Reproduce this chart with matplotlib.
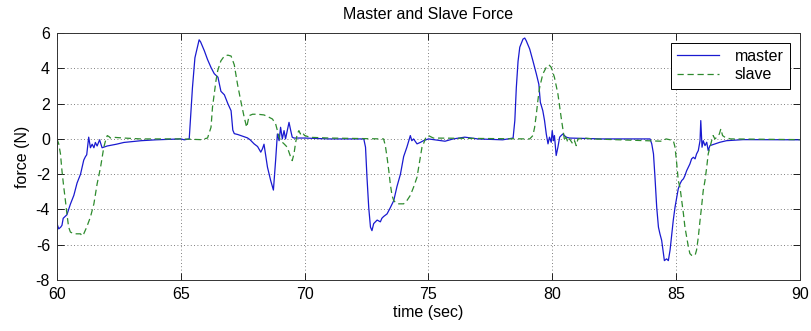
import matplotlib
matplotlib.use("Agg")
import matplotlib.pyplot as plt

plt.rcParams['font.family'] = ['Liberation Sans Narrow', 'Liberation Sans', 'DejaVu Sans']
plt.rcParams['axes.unicode_minus'] = False

title = "Master and Slave Force"
x_label = "time (sec)"
y_label = "force (N)"
series_names = ["master", "slave"]
x_ticks = [60, 65, 70, 75, 80, 85, 90]
y_ticks = [-8, -6, -4, -2, 0, 2, 4, 6]

master_t = [60.0, 60.07, 60.15, 60.2, 60.25, 60.4, 60.54, 60.68, 60.81, 60.95,
            61.08, 61.15, 61.2, 61.28, 61.35, 61.42, 61.49, 61.55, 61.62, 61.72,
            61.82, 62.03, 62.4, 62.7, 63.4, 64.0, 65.0, 65.14, 65.34, 65.47,
            65.57, 65.74, 65.8, 65.95, 66.08, 66.22, 66.35, 66.5, 66.62, 66.76,
            66.9, 67.03, 67.1, 67.16, 67.3, 67.42, 67.69, 67.8, 67.96, 68.1,
            68.23, 68.3, 68.36, 68.42, 68.5, 68.63, 68.74, 68.83, 68.9, 68.97,
            69.03, 69.1, 69.17, 69.23, 69.3, 69.37, 69.44, 69.5, 69.57, 70.0,
            71.0, 72.39, 72.46, 72.52, 72.59, 72.66, 72.72, 72.79, 72.93, 73.06,
            73.12, 73.19, 73.33, 73.46, 73.6, 73.73, 73.87, 74.0, 74.13, 74.27,
            74.33, 74.4, 74.54, 74.67, 74.8, 75.0, 75.67, 76.0, 76.47, 77.0,
            78.0, 78.42, 78.49, 78.55, 78.62, 78.69, 78.82, 78.89, 78.95, 79.09,
            79.22, 79.36, 79.46, 79.52, 79.62, 79.69, 79.76, 79.83, 79.89, 79.96,
            80.0, 80.05, 80.09, 80.16, 80.23, 80.3, 80.36, 80.43, 80.56, 80.7,
            82.0, 83.95, 84.02, 84.09, 84.15, 84.22, 84.29, 84.35, 84.42, 84.49,
            84.53, 84.62, 84.69, 84.76, 84.83, 84.89, 84.96, 85.03, 85.09, 85.16,
            85.23, 85.3, 85.36, 85.43, 85.56, 85.63, 85.7, 85.77, 85.83, 85.9,
            85.97, 86.0, 86.05, 86.1, 86.17, 86.24, 86.3, 86.37, 86.5, 86.77,
            87.04, 87.71, 90.0]
master_f = [-4.8, -5.1, -5.0, -4.9, -4.5, -4.3, -3.7, -3.2, -2.5, -2.0,
            -1.2, -1.0, -0.9, 0.1, -0.5, -0.3, -0.5, -0.2, -0.4, -0.05,
            -0.5, -0.4, -0.3, -0.2, -0.1, -0.05, 0.0, -0.05, 0.0, 2.9,
            4.6, 5.62, 5.5, 5.0, 4.5, 4.05, 3.7, 3.5, 2.7, 2.5,
            2.0, 1.6, 0.5, 0.3, 0.25, 0.19, 0.06, -0.05, -0.28, -0.43,
            -0.75, -0.55, -0.3, -0.85, -1.6, -2.36, -2.9, -1.2, 0.28, -0.1,
            0.66, 0.0, 0.47, 0.0, 0.47, 0.94, 0.47, 0.1, 0.05, 0.05,
            0.0, 0.0, -0.47, -2.2, -3.9, -5.0, -5.2, -4.8, -4.6, -4.7,
            -4.5, -4.4, -4.25, -3.9, -3.5, -2.7, -2.0, -1.0, -0.47, 0.19,
            -0.1, 0.0, -0.28, -0.2, -0.1, 0.0, -0.13, 0.0, 0.1, 0.0,
            -0.05, 0.05, 1.04, 2.9, 4.4, 5.2, 5.66, 5.72, 5.57, 5.1,
            4.43, 3.68, 3.1, 2.08, 1.6, 1.04, 0.28, -0.28, 0.1, -0.19,
            0.47, -0.1, 0.19, -0.94, -0.47, 0.1, 0.19, 0.28, 0.1, 0.05,
            0.0, 0.0, -0.28, -0.85, -2.17, -3.87, -5.0, -5.38, -5.75, -6.5,
            -6.9, -6.8, -6.9, -6.3, -5.4, -4.6, -3.87, -3.3, -2.83, -2.55,
            -2.36, -2.26, -2.08, -1.8, -1.42, -1.13, -1.04, -1.13, -0.85, -0.66,
            -0.1, 1.04, -0.47, -0.1, -0.38, -0.19, -0.66, -0.38, -0.32, -0.19,
            -0.1, -0.04, -0.05]

slave_t = [60.0, 60.07, 60.14, 60.2, 60.27, 60.34, 60.4, 60.47, 60.54, 60.68,
           60.81, 60.95, 61.01, 61.08, 61.2, 61.35, 61.49, 61.62, 61.76, 61.89,
           61.96, 62.03, 62.1, 62.16, 62.3, 62.7, 63.4, 65.0, 65.81, 66.08,
           66.22, 66.28, 66.35, 66.42, 66.49, 66.62, 66.76, 66.9, 67.03, 67.16,
           67.29, 67.42, 67.56, 67.66, 67.76, 67.9, 68.1, 68.36, 68.56, 68.7,
           68.83, 68.97, 69.03, 69.17, 69.3, 69.44, 69.5, 69.57, 69.63, 69.7,
           69.77, 69.83, 69.9, 70.0, 70.24, 71.0, 73.19, 73.26, 73.33, 73.4,
           73.46, 73.53, 73.6, 73.73, 73.87, 74.0, 74.13, 74.27, 74.4, 74.54,
           74.67, 74.74, 74.8, 74.9, 75.0, 75.2, 79.09, 79.22, 79.29, 79.36,
           79.42, 79.49, 79.62, 79.76, 79.87, 79.96, 80.09, 80.23, 80.36, 80.46,
           80.5, 80.56, 80.63, 80.7, 80.83, 80.9, 80.97, 81.04, 81.3, 81.64,
           84.42, 84.6, 84.89, 84.96, 85.03, 85.09, 85.16, 85.23, 85.3, 85.36,
           85.43, 85.5, 85.56, 85.63, 85.77, 85.83, 85.9, 85.97, 86.03, 86.1,
           86.17, 86.24, 86.3, 86.37, 86.44, 86.5, 86.57, 86.64, 86.75, 86.81,
           86.88, 86.98, 87.2, 90.0]
slave_f = [0.0, -0.28, -0.85, -1.8, -2.7, -3.5, -4.25, -5.0, -5.28, -5.38,
           -5.38, -5.38, -5.5, -5.38, -5.0, -4.43, -3.68, -2.55, -1.6, -0.47,
           -0.1, 0.19, 0.13, 0.05, 0.09, 0.05, 0.0, 0.0, -0.04, 0.05,
           0.66, 1.8, 2.55, 3.3, 3.87, 4.43, 4.7, 4.75, 4.7, 4.2,
           3.1, 2.17, 1.23, 0.66, 1.32, 1.4, 1.4, 1.36, 1.23, 1.13,
           0.85, 0.1, -0.1, -0.28, -0.47, -1.04, -1.23, -0.85, -0.28, 0.28,
           0.47, 0.28, 0.38, 0.19, 0.09, 0.05, 0.0, -0.38, -1.04, -1.8,
           -2.55, -3.2, -3.5, -3.68, -3.68, -3.68, -3.5, -3.2, -2.74, -2.17,
           -1.04, -0.47, -0.28, 0.1, 0.19, 0.05, 0.0, 0.19, 0.66, 1.42,
           2.17, 2.9, 3.68, 4.06, 4.2, 4.06, 3.49, 2.55, 1.23, 0.28,
           -0.1, 0.1, -0.19, 0.0, -0.28, -0.1, -0.38, 0.0, 0.05, 0.0,
           -0.13, 0.0, -0.09, -0.47, -1.42, -2.36, -2.74, -3.5, -4.25, -5.0,
           -5.57, -6.13, -6.5, -6.6, -6.6, -6.3, -5.57, -4.62, -3.87, -2.92,
           -2.36, -1.6, -0.85, -0.47, -0.1, 0.19, 0.0, 0.09, 0.28, 0.57,
           0.19, 0.09, 0.0, -0.04]

fig = plt.figure(figsize=(8.12, 3.31), dpi=100)
ax = fig.add_axes([0.0702, 0.154, 0.9148, 0.746])

ax.plot(master_t, master_f, color="#1a1ad0", lw=0.9, label=series_names[0])
ax.plot(slave_t, slave_f, color="#2e8b2e", lw=0.9, ls=(0, (5, 3)), label=series_names[1])

ax.set_xlim(60, 90)
ax.set_ylim(-8, 6)
ax.set_xticks(x_ticks)
ax.set_yticks(y_ticks)
ax.grid(True, color="#555555", ls=(0, (1, 3)), lw=0.6)
ax.tick_params(direction="in", length=5, width=0.6, top=True, right=True,
               labelsize=11.5, pad=5, colors="black")
for s in ax.spines.values():
    s.set_linewidth(0.7)
    s.set_color("#333333")

ax.set_title(title, fontsize=11.5, pad=10)
ax.set_xlabel(x_label, fontsize=11.5, labelpad=2)
ax.set_ylabel(y_label, fontsize=11.5, labelpad=4)

leg = ax.legend(loc="upper right", fontsize=11.5, fancybox=False, framealpha=1,
                edgecolor="black", borderaxespad=0.6, handlelength=2.6,
                borderpad=0.4, labelspacing=0.2, handletextpad=1.0)
leg.get_frame().set_linewidth(0.7)

fig.savefig("out.png", dpi=100)
